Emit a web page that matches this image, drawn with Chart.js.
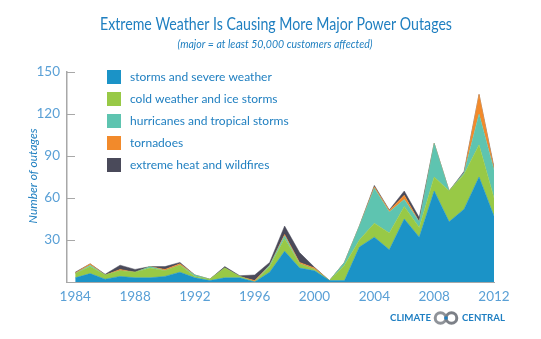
<!DOCTYPE html>
<html>
<head>
<meta charset="utf-8">
<script src="https://cdn.jsdelivr.net/npm/chart.js@4"></script>
<style>
html,body{margin:0;padding:0;background:#fff;}
#wrap{width:541px;height:339px;position:relative;}
</style>
</head>
<body>
<div id="wrap"><canvas id="c" width="541" height="339"></canvas></div>
<script>
const years = [1984,1985,1986,1987,1988,1989,1990,1991,1992,1993,1994,1995,1996,1997,1998,1999,2000,2001,2002,2003,2004,2005,2006,2007,2008,2009,2010,2011,2012];
const storms    = [3,6,2,4,3,3,4,7,3,1,3,3,0,7,22,10,8,1,1,25,32,23,45,32,65,43,52,75,47];
const cold      = [3,5,3,4,4,7,4,5,1,1,7,1,0,4,9,3,1,0,11,5,10,12,9,7,10,22,25,23,13];
const hurricanes= [0,1,0,0,0,1,0,0,1,0,0,0,0,1,2,0,0,0,2,10,25,15,5,4,24,0,1,22,20];
const tornadoes = [0.5,1,0,1,0,0,1,1,0,0,0,0,1,0,1,1,1,0,0,0,1,1,3,0,0,0,0,14,1];
const heat      = [0.5,0,0.5,3,2,0,2,1,0,0,1,0.5,4,2,6,7,0.5,0,0,0,1,0.5,3,3,0,0,1,0,1];
const seriesNames = ['storms and severe weather','cold weather and ice storms','hurricanes and tropical storms','tornadoes','extreme heat and wildfires'];
const seriesColors = ['#1b93c7','#98c946','#5ec4b0','#f28a2b','#4a4a5a'];
const xTicks = [1984,1988,1992,1996,2000,2004,2008,2012];
const yTicks = [30,60,90,120,150];

const series = [storms,cold,hurricanes,tornadoes,heat];
const datasets = series.map((vals,i)=>({
  label: seriesNames[i],
  data: years.map((y,j)=>({x:y,y:vals[j]})),
  backgroundColor: seriesColors[i],
  borderColor: seriesColors[i],
  borderWidth: 0.5,
  pointRadius: 0,
  tension: 0,
  fill: i===0 ? 'origin' : '-1'
}));

const FONT = 'Lato, "Open Sans", sans-serif';
const TEXT_BLUE = '#1f7fc0';
const TICK_BLUE = '#5aa0d6';

const overlay = {
  id:'overlay',
  afterDraw(chart){
    const ctx = chart.ctx;
    const ys = chart.scales.y;
    const xs = chart.scales.x;
    ctx.save();
    // y ticks inward
    ctx.strokeStyle = '#a8a8a8';
    ctx.lineWidth = 1;
    yTicks.forEach(v=>{
      const py = Math.round(ys.getPixelForValue(v))+0.5;
      ctx.beginPath();
      ctx.moveTo(xs.left, py);
      ctx.lineTo(xs.left+8, py);
      ctx.stroke();
    });
    // title
    ctx.fillStyle = TEXT_BLUE;
    ctx.textAlign = 'center';
    ctx.textBaseline = 'middle';
    ctx.font = '17.5px ' + FONT;
    ctx.fillText('Extreme Weather Is Causing More Major Power Outages', 276, 24, 352);
    ctx.font = 'italic 11px ' + FONT;
    ctx.fillText('(major = at least 50,000 customers affected)', 275, 44, 195);
    // y axis title
    ctx.save();
    ctx.translate(33, 176);
    ctx.rotate(-Math.PI/2);
    ctx.font = 'italic 12px ' + FONT;
    ctx.fillText('Number of outages', 0, 0);
    ctx.restore();
    // legend
    ctx.textAlign = 'left';
    ctx.font = '12px ' + FONT;
    chart.data.datasets.forEach((ds,i)=>{
      const cy = 77 + i*22;
      ctx.fillStyle = ds.backgroundColor;
      ctx.fillRect(107, cy-7, 14, 14);
      ctx.fillStyle = TEXT_BLUE;
      ctx.fillText(ds.label, 130, cy);
    });
    // logo
    ctx.font = 'bold 10px ' + FONT;
    ctx.fillStyle = '#1f7fc2';
    ctx.textAlign = 'left';
    ctx.fillText('CLIMATE', 390, 318, 41);
    ctx.fillText('CENTRAL', 462, 318, 43);
    ctx.lineWidth = 3;
    ctx.strokeStyle = '#8f9399';
    ctx.beginPath(); ctx.arc(440.5, 318, 5.3, 0, Math.PI*2); ctx.stroke();
    ctx.strokeStyle = '#7c8087';
    ctx.beginPath(); ctx.arc(451.5, 318, 5.3, 0, Math.PI*2); ctx.stroke();
    ctx.fillStyle = '#1f7fc2';
    ctx.beginPath(); ctx.arc(446, 318, 1.8, 0, Math.PI*2); ctx.fill();
    ctx.restore();
  }
};

new Chart(document.getElementById('c'), {
  type:'line',
  data:{datasets},
  options:{
    responsive:false,
    animation:false,
    events:[],
    layout:{padding:{left:0,right:47,top:72,bottom:30}},
    plugins:{legend:{display:false},title:{display:false},tooltip:{enabled:false}},
    scales:{
      x:{
        type:'linear', min:1983.45, max:2012,
        afterBuildTicks(s){ s.ticks = xTicks.map(v=>({value:v})); },
        afterFit(s){ s.height = 27; },
        grid:{display:false, drawTicks:false},
        border:{display:true,color:'#a8a8a8',width:1},
        ticks:{color:TICK_BLUE,font:{family:FONT,size:13.5},padding:7,maxRotation:0,autoSkip:false,callback:v=>String(v)}
      },
      y:{
        stacked:true, min:0, max:150,
        afterBuildTicks(s){ s.ticks = [0].concat(yTicks).map(v=>({value:v})); },
        afterFit(s){ s.width = 67; },
        grid:{display:false, drawTicks:false},
        border:{display:true,color:'#a8a8a8',width:1.5},
        ticks:{color:TICK_BLUE,font:{family:FONT,size:13.5},padding:7,callback:v=> v===0 ? '' : String(v)}
      }
    }
  },
  plugins:[overlay]
});
</script>
</body>
</html>
